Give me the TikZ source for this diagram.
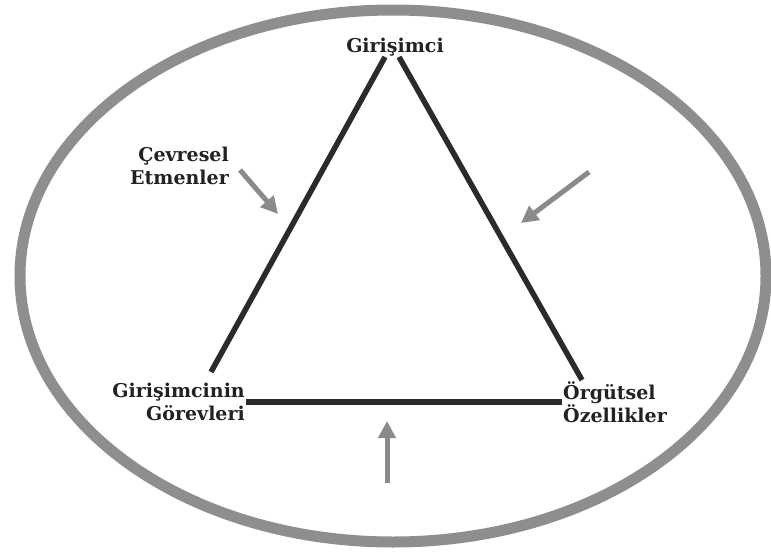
\documentclass[tikz,border=0pt]{standalone}
\usepackage{fontspec}
\setmainfont{DejaVu Serif}
\usetikzlibrary{arrows.meta}
\definecolor{ringgray}{HTML}{8E8E8E}
\definecolor{edgedark}{HTML}{2B2B2B}
\definecolor{arrowgray}{HTML}{8A8A8A}
\definecolor{labeltext}{HTML}{222222}
\begin{document}
\begin{tikzpicture}[x=1pt,y=-1pt,
  lbl/.style={font=\fontsize{19}{23.5}\selectfont\bfseries, text=labeltext, inner sep=0pt},
  edge/.style={line width=5.5pt, draw=edgedark, line cap=butt},
  force/.style={line width=5pt, draw=arrowgray, -{Triangle[length=17pt,width=17pt]}}]
\useasboundingbox (0,0) rectangle (771,557);
\fill[white] (0,0) rectangle (771,557);
\draw[line width=11pt, draw=ringgray] (393,276) ellipse [x radius=373, y radius=266];
% corners
\coordinate (tl) at (385,57);
\coordinate (tr) at (399,57);
\coordinate (bl) at (211,372);
\coordinate (br) at (582,380);
\coordinate (hl) at (246,402);
\coordinate (hr) at (562,402);
\draw[edge] (tl) -- (bl);
\draw[edge] (tr) -- (br);
\draw[edge] (hl) -- (hr);
% labels
\node[lbl, anchor=base] (gir) at (395,52) {Girişimci};
\node[lbl, anchor=east, align=right] (cev) at (229,166) {Çevresel\\Etmenler};
\node[lbl, anchor=east, align=right] (gor) at (245,402) {Girişimcinin\\Görevleri};
\node[lbl, anchor=west, align=left] (org) at (563,402) {Örgütsel\\Özellikler};
% arrows
\coordinate (a1s) at (240,170);
\coordinate (a1e) at (278,214);
\coordinate (a2s) at (589,172);
\coordinate (a2e) at (521,223);
\coordinate (a3s) at (387,483);
\coordinate (a3e) at (387,421);
\draw[force] (a1s) -- (a1e);
\draw[force] (a2s) -- (a2e);
\draw[force] (a3s) -- (a3e);
\end{tikzpicture}
\end{document}
